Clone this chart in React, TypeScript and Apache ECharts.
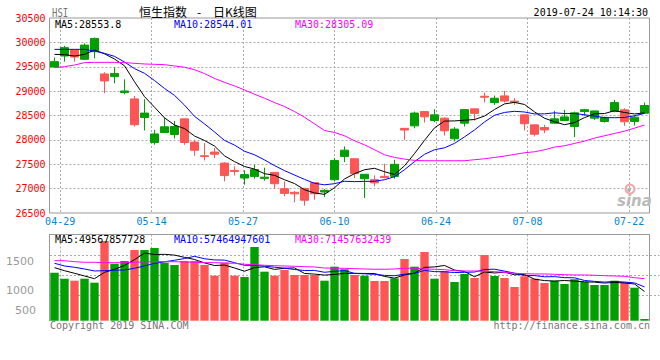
import React, { useEffect, useRef } from 'react';
import * as echarts from 'echarts';

const DATES = ['04-26','04-29','04-30','05-02','05-03','05-06','05-07','05-08','05-09','05-10','05-14','05-15','05-16','05-17','05-20','05-21','05-22','05-23','05-24','05-27','05-28','05-29','05-30','05-31','06-03','06-04','06-05','06-06','06-10','06-11','06-12','06-13','06-14','06-17','06-18','06-19','06-20','06-21','06-24','06-25','06-26','06-27','06-28','07-02','07-03','07-04','07-05','07-08','07-09','07-10','07-11','07-12','07-15','07-16','07-17','07-18','07-19','07-22','07-23','07-24'];
const LABEL_DATES = ['04-29','05-14','05-27','06-10','06-24','07-08','07-22'];

const OPEN = [29495,29720,29843,29652,29809,29352,29298,28970,28840,28459,27947,28152,28111,28431,27954,27674,27750,27524,27374,27217,27251,27210,27333,26999,26924,27006,27122,26931,27183,27661,27613,27203,27183,27251,27251,28236,28288,28581,28397,28445,28022,28343,28636,28895,28766,28902,28795,28513,28308,28254,28343,28397,28275,28581,28445,28377,28581,28616,28377,28547];
const CLOSE = [29605,29892,29699,29944,30081,29209,29363,29003,28311,28550,28122,28268,28275,27946,27787,27657,27706,27267,27353,27288,27390,27235,27101,26901,26893,26762,26896,26965,27578,27789,27308,27294,27118,27227,27498,28202,28550,28473,28513,28186,28221,28621,28543,28875,28855,28796,28775,28331,28116,28204,28431,28471,28554,28620,28594,28461,28765,28372,28466,28705];
const LOW = [29490,29604,29604,29652,29672,28957,29161,28936,28274,28193,27900,28152,28029,27900,27674,27579,27627,27149,27271,27080,27203,27162,26992,26842,26719,26651,26774,26829,27149,27545,27217,26808,27047,27210,27203,28002,28240,28356,28363,28090,27968,28275,28397,28766,28718,28766,28718,28193,28070,28138,28329,28397,28056,28493,28411,28356,28568,28288,28295,28547];
const HIGH = [29690,29930,29863,29980,30100,29386,29490,29243,28900,28833,28206,28452,28390,28431,28002,27934,27831,27538,27456,27374,27490,27429,27333,27149,26951,27006,27122,26992,27627,27865,27613,27294,27271,27510,27593,28236,28581,28581,28629,28465,28261,28621,28636,28970,28909,29004,28854,28513,28308,28308,28595,28616,28581,28636,28595,28479,28820,28650,28493,28766];

const MA5 = [29754,29748,29720,29754,29844,29765,29659,29520,29193,28887,28670,28451,28305,28232,28080,27987,27874,27673,27554,27454,27401,27307,27273,27183,27104,26978,26911,26883,27019,27198,27307,27387,27417,27347,27289,27468,27719,27990,28247,28385,28389,28403,28417,28489,28623,28738,28769,28726,28575,28444,28371,28311,28355,28456,28534,28540,28599,28562,28532,28554];
const MA10 = [29857,29857,29857,29857,29823,29775,29713,29598,29461,29366,29217,29055,28913,28713,28483,28328,28163,27989,27893,27767,27694,27590,27473,27369,27279,27190,27109,27078,27101,27151,27143,27149,27150,27183,27244,27388,27553,27704,27797,27837,27928,28061,28203,28368,28504,28563,28586,28572,28532,28534,28555,28540,28541,28515,28489,28456,28455,28459,28494,28544];
const MA30 = [29482,29502,29536,29584,29590,29590,29590,29584,29570,29557,29550,29543,29516,29490,29440,29360,29260,29181,29107,29025,28936,28854,28766,28684,28581,28465,28329,28193,28152,28084,27981,27899,27797,27695,27640,27606,27579,27572,27572,27572,27572,27572,27593,27613,27640,27667,27702,27736,27756,27797,27852,27879,27927,27974,28036,28084,28131,28179,28240,28305];

const VOL = [816,714,680,714,646,1355,969,1015,1202,1202,1236,986,947,1015,1015,947,765,986,765,743,1253,833,765,862,777,777,777,680,918,874,777,765,675,675,721,1049,918,1168,714,845,658,794,726,1117,760,726,573,755,714,641,680,624,704,658,607,607,680,658,561,29];
const VMA5 = [901,850,806,760,714,822,873,940,1037,1149,1125,1128,1115,1077,1040,982,938,946,896,841,902,916,872,891,898,803,792,775,786,805,805,803,802,753,723,777,808,906,914,939,861,836,747,828,811,825,780,786,706,682,673,683,673,661,655,640,651,642,623,496];
const VMA10 = [976,930,908,879,845,850,857,862,891,931,973,1001,1027,1057,1094,1053,1033,1030,986,941,942,927,909,893,870,853,854,823,839,852,804,797,788,770,764,791,805,854,834,831,819,822,827,871,875,843,808,767,767,746,749,732,729,684,668,656,667,657,642,575];
const VMA30 = [1020,1020,1003,993,993,986,986,986,993,998,1003,1003,1003,998,993,986,986,981,976,959,952,942,935,930,925,918,913,896,891,891,884,879,874,874,879,891,891,879,874,867,850,845,845,840,833,823,806,799,794,794,789,782,777,777,772,765,760,755,731,715];

const VOL_LABELS = ['1500', '1000', '500'];
const MA_TEXT = ['MA5:28553.8', 'MA10:28544.01', 'MA30:28305.09'];
const VMA_TEXT = ['MA5:49567857728', 'MA10:57464947601', 'MA30:71457632439'];
const TITLE_PARTS = ['恒生指数', '-', '日K线图'];
const CODE = 'HSI';
const TIME = '2019-07-24 10:14:30';

const UP = '#00a000';
const DOWN = '#ff5555';
const MA_COLORS = ['#000000', '#0000ff', '#ff00ff'];
const MONO = '"DejaVu Sans Mono", monospace';

export default function App() {
  const ref = useRef<HTMLDivElement>(null);
  useEffect(() => {
    if (!ref.current) return;
    const chart = echarts.init(ref.current, undefined, { renderer: 'svg' });
    const dash = { color: '#aaaaaa', type: [2, 2] as any, width: 1 };
    const labelInterval = (_i: number, v: string) => LABEL_DATES.indexOf(v) >= 0;
    const txt = (text: string, x: number, y: number, fill: string, font: string, size: number, align = 'left', extra: any = {}) => ({
      type: 'text', x, y, z: 10, ...extra,
      style: { text, fill, font: size + 'px ' + font, lineHeight: size, align, textAlign: align, verticalAlign: 'middle', textVerticalAlign: 'middle' },
    });
    const lineSeries = (data: number[], color: string, axis: number) => ({
      type: 'line', data, xAxisIndex: axis, yAxisIndex: axis, showSymbol: false, symbol: 'none',
      lineStyle: { color, width: 1 }, itemStyle: { color }, z: 4, silent: true,
    });
    const option: any = {
      animation: false,
      backgroundColor: '#ffffff',
      grid: [
        { left: 49.5, top: 18, width: 600, height: 195, show: true, borderColor: '#999999', borderWidth: 1 },
        { left: 49.5, top: 234.5, width: 600, height: 86.2 },
        { left: 50, top: 18, width: 609.6, height: 195 },
        { left: 50, top: 234.5, width: 609.6, height: 81.2 },
      ],
      xAxis: [
        { gridIndex: 0, type: 'category', data: DATES, show: false, boundaryGap: true },
        { gridIndex: 1, type: 'category', data: DATES, position: 'top', boundaryGap: true,
          axisLine: { show: true, onZero: false, lineStyle: { color: '#999999' } },
          axisTick: { show: false }, axisLabel: { show: false }, splitLine: { show: false } },
        { gridIndex: 2, type: 'category', data: [...DATES, ''], boundaryGap: false,
          axisLine: { show: false }, axisTick: { show: false },
          axisLabel: { show: true, interval: labelInterval, color: '#0a84d0', fontFamily: MONO, fontSize: 10, margin: 3 },
          splitLine: { show: true, interval: labelInterval, lineStyle: dash } },
        { gridIndex: 3, type: 'category', data: [...DATES, ''], boundaryGap: false,
          axisLine: { show: false }, axisTick: { show: false }, axisLabel: { show: false },
          splitLine: { show: true, interval: labelInterval, lineStyle: dash } },
      ],
      yAxis: [
        { gridIndex: 0, type: 'value', min: 26500, max: 30500, interval: 500,
          axisLine: { show: false }, axisTick: { show: false },
          axisLabel: { color: '#ff0000', fontFamily: MONO, fontSize: 10, margin: 4, formatter: (v: number) => String(v) },
          splitLine: { show: true, showMinLine: false, showMaxLine: false, lineStyle: dash } },
        { gridIndex: 1, type: 'value', min: 0, max: 1465,
          axisLine: { show: true, lineStyle: { color: '#999999' } }, axisTick: { show: false },
          axisLabel: { show: false }, splitLine: { show: false } },
        { gridIndex: 1, type: 'value', position: 'right', min: 0, max: 1465,
          axisLine: { show: true, lineStyle: { color: '#999999' } }, axisTick: { show: false },
          axisLabel: { show: false }, splitLine: { show: false } },
        { gridIndex: 2, type: 'value', show: false },
        { gridIndex: 3, type: 'value', min: 0, max: 4, interval: 1,
          axisLine: { show: false }, axisTick: { show: false }, axisLabel: { show: false },
          splitLine: { show: true, showMinLine: false, showMaxLine: false, lineStyle: dash } },
      ],
      series: [
        { type: 'candlestick', xAxisIndex: 0, yAxisIndex: 0, barWidth: 8.6,
          data: OPEN.map((o, i) => [o, CLOSE[i], LOW[i], HIGH[i]]),
          itemStyle: { color: UP, color0: DOWN, borderColor: UP, borderColor0: DOWN, borderWidth: 1 } },
        lineSeries(MA5, MA_COLORS[0], 0),
        lineSeries(MA10, MA_COLORS[1], 0),
        lineSeries(MA30, MA_COLORS[2], 0),
        { type: 'bar', xAxisIndex: 1, yAxisIndex: 1, barWidth: 8.4,
          data: VOL.map((v, i) => ({ value: v, itemStyle: { color: CLOSE[i] >= OPEN[i] ? UP : DOWN } })) },
        lineSeries(VMA5, MA_COLORS[0], 1),
        lineSeries(VMA10, MA_COLORS[1], 1),
        lineSeries(VMA30, MA_COLORS[2], 1),
      ],
      graphic: [
        txt(CODE, 52, 12, '#777777', '"DejaVu Sans Mono"', 12, 'left', { scaleX: 0.75 }),
        txt(TITLE_PARTS[0], 187, 11, '#000000', '"Noto Sans CJK SC"', 12, 'right'),
        txt(TITLE_PARTS[1], 199, 11, '#000000', '"Noto Sans CJK SC"', 12, 'center'),
        txt(TITLE_PARTS[2], 213, 11, '#000000', '"Noto Sans CJK SC"', 12, 'left'),
        txt(TIME, 648, 12, '#000000', MONO, 10, 'right'),
        txt(MA_TEXT[0], 55, 24, MA_COLORS[0], MONO, 10),
        txt(MA_TEXT[1], 174, 24, MA_COLORS[1], MONO, 10),
        txt(MA_TEXT[2], 295, 24, MA_COLORS[2], MONO, 10),
        txt(VMA_TEXT[0], 55, 239, MA_COLORS[0], MONO, 10),
        txt(VMA_TEXT[1], 174, 239, MA_COLORS[1], MONO, 10),
        txt(VMA_TEXT[2], 295, 239, MA_COLORS[2], MONO, 10),
        txt(VOL_LABELS[0], 6, 261, '#999999', '"DejaVu Sans"', 11),
        txt(VOL_LABELS[1], 6, 290, '#999999', '"DejaVu Sans"', 11),
        txt(VOL_LABELS[2], 15, 310, '#999999', '"DejaVu Sans"', 11),
        txt('Copyright 2019 SINA.COM', 50, 325, '#777777', MONO, 10),
        txt('http://finance.sina.com.cn', 650, 325, '#777777', MONO, 10, 'right'),
        { type: 'circle', z: 1, shape: { cx: 630, cy: 189, r: 4.5 }, style: { fill: 'none', stroke: '#f5a5a5', lineWidth: 2 } },
        { type: 'circle', z: 1, shape: { cx: 629, cy: 190, r: 1.8 }, style: { fill: '#aaaaaa' } },
        { type: 'text', x: 617, y: 201, z: 1, style: { text: 'sina', fill: '#bbbbbb', font: 'italic bold 15px "DejaVu Sans"', lineHeight: 15, verticalAlign: 'middle', textVerticalAlign: 'middle' } },
      ],
    };
    chart.setOption(option);
    return () => chart.dispose();
  }, []);
  return <div ref={ref} style={{ position: 'fixed', left: 0, top: 0, width: 660, height: 360, background: '#fff' }} />;
}
